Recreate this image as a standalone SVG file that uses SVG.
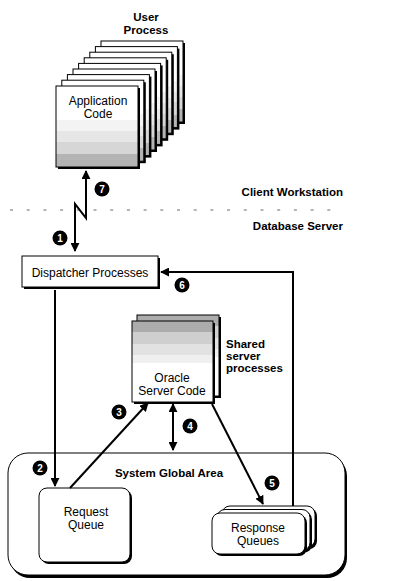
<svg xmlns="http://www.w3.org/2000/svg" width="419" height="581" viewBox="0 0 419 581">
<style>
.t{font-family:"Liberation Sans",Arial,sans-serif;font-size:12px;fill:#000;text-anchor:middle}
.b{font-family:"Liberation Sans",Arial,sans-serif;font-size:11.5px;font-weight:bold;fill:#000}
.n{font-family:"Liberation Sans",Arial,sans-serif;font-size:10px;font-weight:bold;fill:#fff;text-anchor:middle}
.card{stroke:#000;stroke-width:1}
.line{fill:none;stroke:#000;stroke-width:2}
</style>
<defs>
<linearGradient id="gUp" x1="0" y1="0" x2="0" y2="1">
<stop offset="0" stop-color="#fff"/><stop offset="0.42" stop-color="#fff"/>
<stop offset="0.42" stop-color="#f3f3f3"/><stop offset="0.56" stop-color="#f3f3f3"/>
<stop offset="0.56" stop-color="#e6e6e6"/><stop offset="0.69" stop-color="#e6e6e6"/>
<stop offset="0.69" stop-color="#d6d6d6"/><stop offset="0.84" stop-color="#d6d6d6"/>
<stop offset="0.84" stop-color="#b4b4b4"/><stop offset="1" stop-color="#b4b4b4"/>
</linearGradient>
<linearGradient id="gDown" x1="0" y1="0" x2="0" y2="1">
<stop offset="0" stop-color="#acacac"/><stop offset="0.14" stop-color="#acacac"/>
<stop offset="0.14" stop-color="#cfcfcf"/><stop offset="0.28" stop-color="#cfcfcf"/>
<stop offset="0.28" stop-color="#e2e2e2"/><stop offset="0.42" stop-color="#e2e2e2"/>
<stop offset="0.42" stop-color="#f0f0f0"/><stop offset="0.52" stop-color="#f0f0f0"/>
<stop offset="0.52" stop-color="#fff"/><stop offset="1" stop-color="#fff"/>
</linearGradient>
<marker id="ah" viewBox="0 0 10 10" refX="9" refY="5" markerWidth="9" markerHeight="9" markerUnits="userSpaceOnUse" orient="auto-start-reverse">
<path d="M0,0 L10,5 L0,10 z" fill="#000"/>
</marker>
<g id="upCard">
<rect x="2" y="2" width="82" height="81" fill="#000"/>
<rect x="0" y="0" width="82" height="81" fill="url(#gUp)" class="card"/>
</g>
</defs>
<rect width="419" height="581" fill="#fff"/>

<g id="user-process">
<use href="#upCard" x="101" y="41"/>
<use href="#upCard" x="95.4" y="46.6"/>
<use href="#upCard" x="89.8" y="52.2"/>
<use href="#upCard" x="84.2" y="57.8"/>
<use href="#upCard" x="78.6" y="63.4"/>
<use href="#upCard" x="73" y="69"/>
<use href="#upCard" x="67.4" y="74.6"/>
<use href="#upCard" x="61.8" y="80.2"/>
<use href="#upCard" x="56" y="86"/>
<text class="t" x="98" y="105">Application</text>
<text class="t" x="98" y="118">Code</text>
<text class="b" x="146" y="21" text-anchor="middle" font-size="12">User</text>
<text class="b" x="146" y="34" text-anchor="middle" font-size="12">Process</text>
</g>

<g id="zones">
<line x1="10" y1="210" x2="340" y2="210" stroke="#b4b4b4" stroke-width="2" stroke-dasharray="3 13.7"/>
<text class="b" x="343" y="196" text-anchor="end">Client Workstation</text>
<text class="b" x="343" y="230" text-anchor="end">Database Server</text>
</g>

<g id="dispatcher">
<rect x="24" y="258" width="136" height="31" fill="#000"/>
<rect x="22" y="256" width="136" height="31" fill="#fff" class="card"/>
<text class="t" x="90" y="277">Dispatcher Processes</text>
</g>

<g id="oracle-server">
<rect x="139" y="317" width="82" height="81" fill="#000"/>
<rect x="137" y="315" width="82" height="81" fill="url(#gDown)" class="card"/>
<rect x="134" y="323" width="81" height="81" fill="#000"/>
<rect x="132" y="321" width="81" height="81" fill="url(#gDown)" class="card"/>
<text class="t" x="172" y="382">Oracle</text>
<text class="t" x="172" y="395">Server Code</text>
<text class="b" x="226" y="348">Shared</text>
<text class="b" x="226" y="360">server</text>
<text class="b" x="226" y="372">processes</text>
</g>

<g id="sga">
<path d="M30,456 H327 A20,20 0 0 1 347,476 V558 A20,20 0 0 1 327,578 H30 A20,20 0 0 1 10,558 V476 A20,20 0 0 1 30,456 Z" fill="#000"/>
<path d="M28,453 H325 A20,20 0 0 1 345,473 V555 A20,20 0 0 1 325,575 H28 A20,20 0 0 1 8,555 V473 A20,20 0 0 1 28,453 Z" fill="#fff" stroke="#000" stroke-width="1"/>
<text class="b" x="169" y="477" text-anchor="middle">System Global Area</text>
</g>

<g id="request-queue">
<rect x="41" y="490" width="91" height="74" rx="8" fill="#000"/>
<rect x="39" y="488" width="91" height="74" rx="8" fill="#fff" class="card"/>
<text class="t" x="86" y="516">Request</text>
<text class="t" x="86" y="529">Queue</text>
</g>

<g id="response-queues">
<rect x="224" y="508" width="93" height="41" rx="8" fill="#000"/>
<rect x="222" y="506" width="93" height="41" rx="8" fill="#fff" class="card"/>
<rect x="219" y="511.5" width="93" height="41" rx="8" fill="#000"/>
<rect x="217" y="509.5" width="93" height="41" rx="8" fill="#fff" class="card"/>
<rect x="214" y="515" width="93" height="41" rx="8" fill="#000"/>
<rect x="212" y="513" width="93" height="41" rx="8" fill="#fff" class="card"/>
<text class="t" x="258" y="532">Response</text>
<text class="t" x="258" y="545">Queues</text>
</g>

<g id="connectors">
<path class="line" d="M86,171 V218 L75,204 V251" marker-start="url(#ah)" marker-end="url(#ah)"/>
<path class="line" d="M55,290 V486" marker-end="url(#ah)"/>
<path class="line" d="M70,488 L148,403" marker-end="url(#ah)"/>
<path class="line" d="M173,404 V450" marker-start="url(#ah)" marker-end="url(#ah)"/>
<path class="line" d="M212,404 L263,504" marker-end="url(#ah)"/>
<path class="line" d="M293,506 V272 H161" marker-end="url(#ah)"/>
</g>

<g id="badges">
<circle cx="102" cy="189" r="7.5" fill="#000"/><text class="n" x="102" y="192.5">7</text>
<circle cx="60" cy="238" r="7.5" fill="#000"/><text class="n" x="60" y="241.5">1</text>
<circle cx="182" cy="285" r="7.5" fill="#000"/><text class="n" x="182" y="288.5">6</text>
<circle cx="40" cy="468" r="7.5" fill="#000"/><text class="n" x="40" y="471.5">2</text>
<circle cx="119" cy="412" r="7.5" fill="#000"/><text class="n" x="119" y="415.5">3</text>
<circle cx="190" cy="426" r="7.5" fill="#000"/><text class="n" x="190" y="429.5">4</text>
<circle cx="272" cy="483" r="7.5" fill="#000"/><text class="n" x="272" y="486.5">5</text>
</g>
</svg>
